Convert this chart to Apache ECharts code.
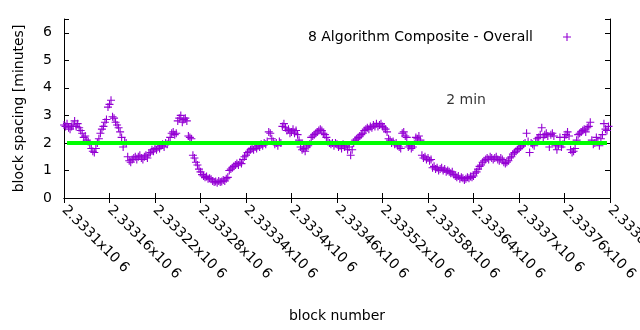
<!DOCTYPE html>
<html><head><meta charset="utf-8">
<script src="https://cdn.jsdelivr.net/npm/echarts@6/dist/echarts.min.js"></script>
<style>html,body{margin:0;padding:0;background:#fff}#c{width:640px;height:330px}</style>
</head><body><div id="c"></div>
<script>
// ---- data (block spacing in minutes, one value every 2 blocks) ----
const firstBlock = 2333100;
const blockStep = 2;
const spacing01 = [2.65,2.6,2.7,2.55,2.5,2.6,2.65,2.8,2.6,2.7, 2.55,2.45,2.35,2.2,2.25,2.1,2.05,1.95,1.8,1.7, 1.65,1.8,2.0,2.15,2.35,2.5,2.6,2.75,2.85,3.3];
const spacing02 = [3.4,3.55,2.95,2.9,2.75,2.65,2.55,2.4,2.2,1.85, 2.05,2.0,1.5,1.35,1.3,1.4,1.45,1.5,1.4,1.5, 1.55,1.45,1.4,1.5,1.55,1.45,1.6,1.65,1.75,1.7];
const spacing03 = [1.8,1.75,1.85,1.8,1.9,1.95,1.85,2.0,1.95,2.05, 2.2,2.35,2.4,2.3,2.35,2.8,2.9,3.0,2.75,2.85, 2.9,2.8,2.25,2.2,2.15,1.55,1.45,1.3,1.2,1.05];
const spacing04 = [0.95,0.85,0.8,0.75,0.78,0.7,0.72,0.68,0.62,0.58, 0.6,0.55,0.62,0.58,0.6,0.65,0.62,0.7,0.75,1.0, 1.05,1.1,1.15,1.2,1.25,1.2,1.3,1.25,1.4,1.5];
const spacing05 = [1.55,1.65,1.7,1.75,1.8,1.75,1.85,1.8,1.9,1.85, 1.95,1.9,2.0,1.95,2.05,2.4,2.35,2.15,2.05,1.95, 2.0,1.9,2.05,2.0,2.6,2.7,2.55,2.45,2.5,2.35];
const spacing06 = [2.4,2.5,2.35,2.45,2.3,2.1,1.85,1.75,1.8,1.7, 1.85,1.9,1.95,2.2,2.25,2.3,2.35,2.4,2.45,2.5, 2.45,2.35,2.3,2.2,2.05,2.0,1.95,2.0,1.9,2.0];
const spacing07 = [1.95,1.85,1.9,1.8,1.95,1.85,1.9,1.75,1.85,1.55, 1.75,2.0,2.1,2.15,2.2,2.25,2.3,2.35,2.45,2.5, 2.55,2.5,2.6,2.55,2.65,2.6,2.7,2.6,2.65,2.7];
const spacing08 = [2.6,2.55,2.5,2.4,2.15,2.1,2.0,2.05,1.95,2.0, 1.9,1.85,1.8,2.35,2.4,2.25,2.2,1.85,1.9,1.8, 1.85,1.95,2.2,2.15,2.25,2.1,1.55,1.45,1.5,1.4];
const spacing09 = [1.45,1.35,1.4,1.1,1.15,1.05,1.1,1.0,1.05,1.1, 1.0,1.05,0.95,1.0,0.95,0.9,0.95,0.85,0.8,0.75, 0.8,0.7,0.75,0.72,0.65,0.7,0.75,0.72,0.78,0.75];
const spacing10 = [0.8,0.9,0.95,1.05,1.15,1.2,1.3,1.35,1.4,1.45, 1.4,1.5,1.45,1.4,1.45,1.5,1.4,1.35,1.45,1.4, 1.3,1.25,1.3,1.35,1.45,1.5,1.6,1.65,1.7,1.75];
const spacing11 = [1.8,1.85,1.9,1.95,2.0,2.35,2.05,1.65,2.0,1.95, 1.9,2.05,2.15,2.2,2.3,2.55,2.2,2.3,2.35,2.25, 1.85,2.3,2.35,2.25,1.9,1.75,1.9,2.2,1.85,1.95];
const spacing12 = [2.2,2.3,2.4,2.25,1.75,1.65,1.7,1.8,2.1,2.3, 2.35,2.4,2.45,2.5,2.4,2.55,2.6,2.75,2.1,1.95, 2.0,2.2,2.05,1.9,2.15,2.3,2.7,2.5,2.45,2.6];

const xMin = 2333100, xMax = 2333820, xTickStep = 60;
const yMin = 0, yMax = 6.5, yTickStep = 1;
const refLineBlocks = [2333104, 2333816];
const refLineValue = 2;
const refLabelText = '2 min';
const refLabelAt = [2333604, 3.53];
const seriesName = '8 Algorithm Composite - Overall';
const axisNameX = 'block number';
const axisNameY = 'block spacing [minutes]';

// ---- build ----
const spacing = [].concat(spacing01, spacing02, spacing03, spacing04, spacing05, spacing06,
  spacing07, spacing08, spacing09, spacing10, spacing11, spacing12);
const points = spacing.map((v, i) => [firstBlock + i * blockStep, v]);

const FONT = 'DejaVu Sans';
const PURPLE = '#9400d3';
const plus = 'path://M0,3.45H8V4.55H0Z M3.45,0H4.55V8H3.45Z';

const chart = echarts.init(document.getElementById('c'), null, {renderer: 'canvas'});
const tickStyle = {show: true, inside: true, length: 5, lineStyle: {color: '#000', width: 1}};
const lineStyle = {show: true, lineStyle: {color: '#000', width: 1}};
chart.setOption({
  animation: false,
  backgroundColor: '#fff',
  textStyle: {fontFamily: FONT},
  grid: {left: 64, right: 30, top: 19, bottom: 132, containLabel: false, outerBoundsMode: 'none'},
  legend: {
    data: [{name: seriesName, icon: plus}],
    right: 64, top: 25, align: 'right',
    itemWidth: 8, itemHeight: 8,
    textStyle: {fontFamily: FONT, fontSize: 14, color: '#000', padding: [0, 25, 0, 0]},
    selectedMode: false
  },
  xAxis: [{
    type: 'value', position: 'bottom', min: xMin, max: xMax, interval: xTickStep,
    axisLine: lineStyle, axisTick: tickStyle, splitLine: {show: false},
    axisLabel: {
      rotate: -45, margin: 10, fontFamily: FONT, fontSize: 14, color: '#000',
      showMaxLabel: true, showMinLabel: true, hideOverlap: false,
      formatter: v => String(+(v / 1e6).toFixed(5)) + 'x10 6'
    },
    name: axisNameX, nameLocation: 'middle', nameGap: 111,
    nameTextStyle: {fontFamily: FONT, fontSize: 14, color: '#000'}
  }, {
    type: 'value', position: 'top', min: xMin, max: xMax, interval: xTickStep,
    axisLine: lineStyle, axisTick: tickStyle, splitLine: {show: false},
    axisLabel: {show: false}
  }],
  yAxis: [{
    type: 'value', position: 'left', min: yMin, max: yMax, interval: yTickStep,
    axisLine: lineStyle, axisTick: tickStyle, splitLine: {show: false},
    axisLabel: {
      margin: 12, fontFamily: FONT, fontSize: 14, color: '#000',
      formatter: v => (Number.isInteger(v) ? String(v) : '')
    },
    name: axisNameY, nameLocation: 'middle', nameGap: 38,
    nameTextStyle: {fontFamily: FONT, fontSize: 14, color: '#000'}
  }, {
    type: 'value', position: 'right', min: yMin, max: yMax, interval: yTickStep,
    axisLine: lineStyle, axisTick: tickStyle, splitLine: {show: false},
    axisLabel: {show: false}
  }],
  series: [{
    name: seriesName, type: 'scatter', data: points,
    symbol: plus, symbolSize: 8,
    itemStyle: {color: PURPLE, opacity: 1},
    emphasis: {disabled: true}, z: 2
  }, {
    name: 'ref', type: 'line', data: refLineBlocks.map(b => [b, refLineValue]),
    symbol: 'none', lineStyle: {color: '#00ff00', width: 4}, z: 3, silent: true
  }, {
    name: 'reflabel', type: 'scatter', data: [refLabelAt], symbolSize: 0.01,
    itemStyle: {color: 'transparent'}, silent: true,
    label: {show: true, position: 'right', distance: 0, formatter: refLabelText,
      fontFamily: FONT, fontSize: 14, color: '#000'}
  }]
});
</script></body></html>
